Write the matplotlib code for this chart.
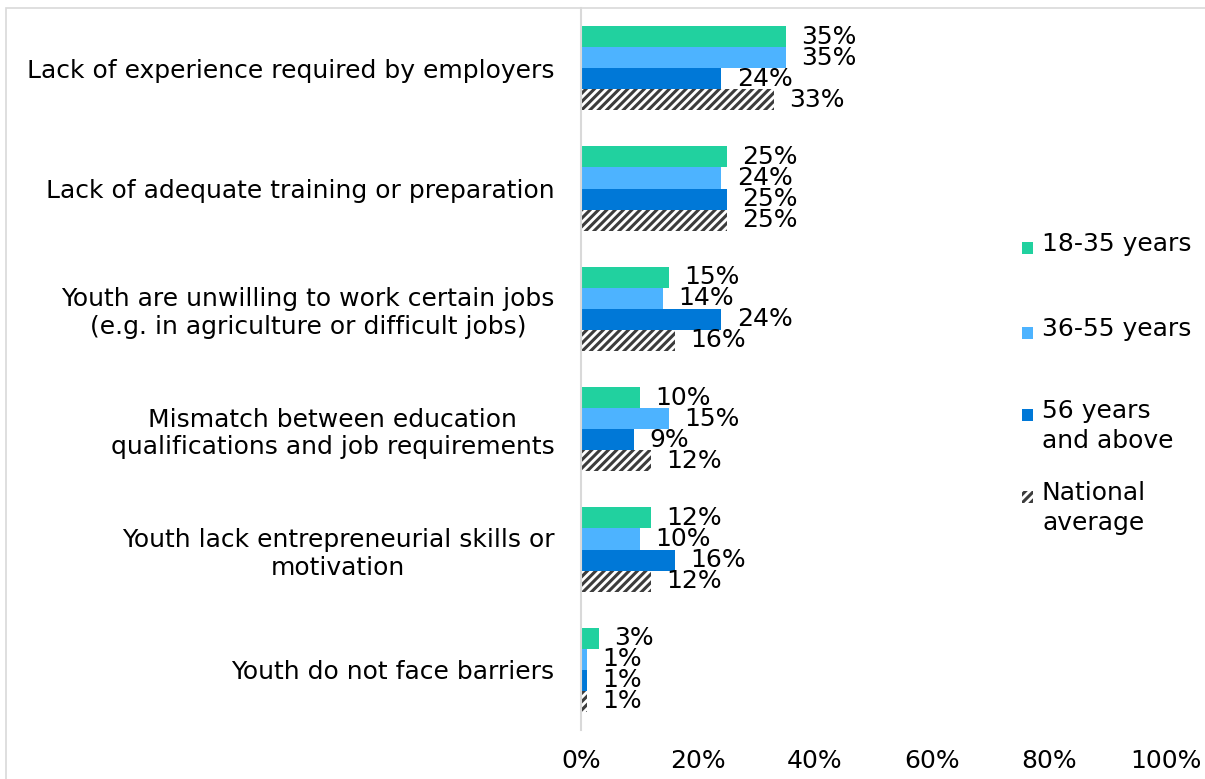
import numpy as np
import matplotlib.pyplot as plt
from matplotlib.patches import Rectangle

categories = [
    "Lack of experience required by employers",
    "Lack of adequate training or preparation",
    "Youth are unwilling to work certain jobs\n(e.g. in agriculture or difficult jobs)",
    "Mismatch between education\nqualifications and job requirements",
    "Youth lack entrepreneurial skills or\nmotivation",
    "Youth do not face barriers",
]
series_names = ["18-35 years", "36-55 years", "56 years\nand above", "National\naverage"]
age_18_35 = [35, 25, 15, 10, 12, 3]
age_36_55 = [35, 24, 14, 15, 10, 1]
age_56_up = [24, 25, 24, 9, 16, 1]
national = [33, 25, 16, 12, 12, 1]
xticks = [0, 20, 40, 60, 80, 100]

colors = ["#21d19f", "#4db3ff", "#0078d7", "white"]
hatches = [None, None, None, "////"]
values = [age_18_35, age_36_55, age_56_up, national]

plt.rcParams["font.family"] = ["DejaVu Sans"]
plt.rcParams["hatch.linewidth"] = 2.2
FS = 18

fig = plt.figure(figsize=(12.05, 7.79), dpi=100)
ax = fig.add_axes([581 / 1205, 1 - 730 / 779, (1166 - 581) / 1205, (730 - 8) / 779])

# frame around the whole chart
fig.patches.append(Rectangle((6 / 1205, -0.05), 1.2, 1 - 8 / 779 + 0.05, transform=fig.transFigure,
                             fill=False, edgecolor="#d9d9d9", linewidth=1.2))

y = np.arange(len(categories))
h = 0.175
for i, (vals, c, ht) in enumerate(zip(values, colors, hatches)):
    pos = y + (i - 1.5) * h
    bars = ax.barh(pos, vals, height=h, color=c, hatch=ht,
                   edgecolor="#3c3c3c" if ht else c, linewidth=0)
    ax.bar_label(bars, labels=[f"{v}%" for v in vals], padding=11, fontsize=FS, color="black")

ax.set_ylim(len(categories) - 0.5, -0.5)
ax.set_xlim(0, 100)
ax.set_xticks(xticks)
ax.set_xticklabels([f"{t}%" for t in xticks], fontsize=FS)
ax.set_yticks(y)
ax.set_yticklabels(categories, fontsize=FS, multialignment="center")
ax.tick_params(length=0)
ax.tick_params(axis="x", pad=14)
ax.tick_params(axis="y", pad=19)
for s in ["top", "right", "bottom"]:
    ax.spines[s].set_visible(False)
ax.spines["left"].set_color("#d9d9d9")
ax.spines["left"].set_linewidth(1.5)

# legend
leg_y = [248, 333, 415, 497]
for name, c, ht, ly in zip(series_names, colors, hatches, leg_y):
    fig.patches.append(Rectangle((1022 / 1205, 1 - (ly + 6) / 779), 11 / 1205, 12 / 779,
                                 transform=fig.transFigure, facecolor=c, hatch=ht,
                                 edgecolor="#3c3c3c" if ht else c, linewidth=0))
    fig.text(1042 / 1205, 1 - (ly - 16) / 779, name, fontsize=FS, va="top", ha="left",
             linespacing=1.3)

fig.savefig("out.png", dpi=100)
